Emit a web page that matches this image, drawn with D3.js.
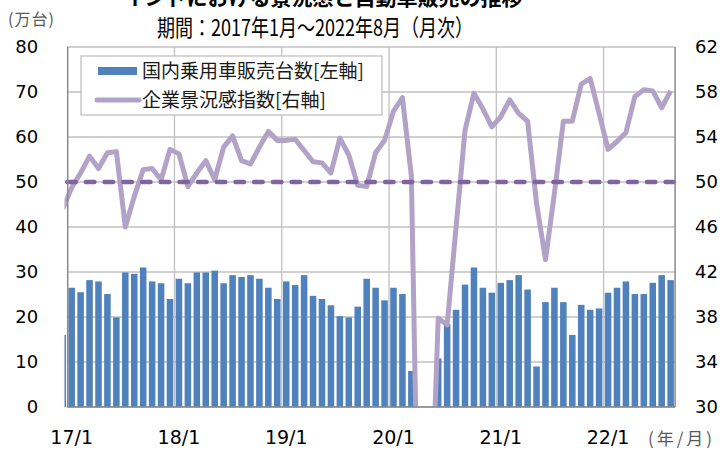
<!DOCTYPE html>
<html>
<head>
<meta charset="utf-8">
<script src="https://cdn.jsdelivr.net/npm/d3@7"></script>
<style>
  body { margin: 0; background: #fff; }
  svg { display: block; }
</style>
</head>
<body>
<svg id="chart" width="725" height="450"></svg>
<script>
// month categories, Dec 2016 .. Aug 2022 (Dec 2016 only shows as a clipped edge)
const months = d3.timeMonth.range(new Date(2016, 11, 1), new Date(2022, 8, 1));
const fmt = d3.timeFormat('%y/%-m');
const monthKeys = months.map(fmt);

const tickLabels = ['17/1', '18/1', '19/1', '20/1', '21/1', '22/1'];
const leftTicks = [0, 10, 20, 30, 40, 50, 60, 70, 80];
const rightTicks = [30, 34, 38, 42, 46, 50, 54, 58, 62];

// 国内乗用車販売台数 (万台)
const sales = [
  16.0,
  26.5, 25.5, 28.2, 27.9, 25.1, 19.9, 29.9, 29.6, 31.0, 27.9, 27.5, 24.0,
  28.5, 27.5, 29.9, 29.9, 30.3, 27.5, 29.3, 28.9, 29.3, 28.5, 26.5, 24.0,
  27.9, 27.1, 29.3, 24.7, 24.0, 22.6, 20.2, 19.9, 22.3, 28.5, 26.5, 23.7,
  26.5, 25.1, 8.0, 0, 0, 10.8, 18.4, 21.6, 27.2, 31.0, 26.5, 25.4,
  27.6, 28.2, 29.3, 26.1, 9.0, 23.3, 26.5, 23.3, 16.0, 22.7, 21.6, 21.9,
  25.4, 26.5, 27.9, 25.1, 25.1, 27.6, 29.3, 28.2
];

// 企業景況感指数
const pmi = [
  47.6,
  49.5, 50.8, 52.3, 51.2, 52.6, 52.7, 46.0, 48.7, 51.1, 51.2, 50.2, 52.9,
  52.5, 49.6, 50.8, 51.9, 50.2, 53.1, 54.1, 51.9, 51.6, 53.1, 54.5, 53.7,
  53.7, 53.8, 52.8, 51.8, 51.7, 50.8, 53.9, 52.4, 49.7, 49.6, 52.6, 53.7,
  56.3, 57.5, 50.5, 7.2, 14.8, 37.9, 37.3, 46.0, 54.6, 57.9, 56.5, 54.9,
  55.8, 57.3, 56.1, 55.4, 48.1, 43.1, 49.0, 55.4, 55.4, 58.7, 59.2, 56.1,
  52.9, 53.6, 54.4, 57.6, 58.2, 58.1, 56.6, 58.1
];
const threshold = 50;

const data = monthKeys.map((k, i) => ({ key: k, sales: sales[i], pmi: pmi[i] }));

const plot = { left: 67.2, right: 675.1, top: 47, bottom: 407 };
const step = (plot.right - plot.left) / 68;
const cjk = '"Noto Sans CJK JP", sans-serif';
const num = '"DejaVu Sans", Verdana, sans-serif';

const svg = d3.select('#chart');

const x = d3
  .scaleBand()
  .domain(monthKeys)
  .range([plot.left - step, plot.right])
  .paddingInner(0.27)
  .paddingOuter(0.135);
const yL = d3.scaleLinear().domain([0, 80]).range([plot.bottom, plot.top]);
const yR = d3.scaleLinear().domain([30, 62]).range([plot.bottom, plot.top]);
const half = (step - x.bandwidth()) / 2;

svg
  .append('defs')
  .append('clipPath')
  .attr('id', 'clip')
  .append('rect')
  .attr('x', 64.5)
  .attr('y', plot.top)
  .attr('width', plot.right - 64.5)
  .attr('height', plot.bottom - plot.top);

// gridlines
const grid = svg.append('g').attr('stroke', '#c0c0c0').attr('stroke-width', 1.3);
grid
  .selectAll('line.h')
  .data(leftTicks)
  .join('line')
  .attr('class', 'h')
  .attr('x1', plot.left)
  .attr('x2', plot.right)
  .attr('y1', (d) => yL(d))
  .attr('y2', (d) => yL(d));
grid
  .selectAll('line.v')
  .data(tickLabels.slice(1))
  .join('line')
  .attr('class', 'v')
  .attr('x1', (d) => x(d) - half)
  .attr('x2', (d) => x(d) - half)
  .attr('y1', plot.top)
  .attr('y2', plot.bottom);

// bars
svg
  .append('g')
  .attr('clip-path', 'url(#clip)')
  .attr('fill', '#4f81bd')
  .selectAll('rect')
  .data(data)
  .join('rect')
  .attr('x', (d) => x(d.key))
  .attr('y', (d) => yL(d.sales))
  .attr('width', x.bandwidth())
  .attr('height', (d) => yL(0) - yL(d.sales));

// index line
const line = d3
  .line()
  .x((d) => x(d.key) + x.bandwidth() / 2)
  .y((d) => yR(d.pmi));
svg
  .append('path')
  .datum(data)
  .attr('clip-path', 'url(#clip)')
  .attr('fill', 'none')
  .attr('stroke', '#b3a2c7')
  .attr('stroke-width', 5)
  .attr('stroke-linejoin', 'round')
  .attr('d', line);

// 50 line
svg
  .append('line')
  .attr('x1', plot.left)
  .attr('x2', plot.right)
  .attr('y1', yR(threshold))
  .attr('y2', yR(threshold))
  .attr('stroke', '#8064a2')
  .attr('stroke-width', 4.5)
  .attr('stroke-linecap', 'round')
  .attr('stroke-dasharray', '8.5,10.2');

// axis frame lines
svg
  .append('g')
  .attr('stroke', '#8a8a8a')
  .attr('stroke-width', 1.5)
  .call((g) =>
    g.append('line').attr('x1', plot.left + 0.5).attr('x2', plot.left + 0.5)
      .attr('y1', plot.top).attr('y2', plot.bottom),
  )
  .call((g) =>
    g.append('line').attr('x1', plot.right).attr('x2', plot.right)
      .attr('y1', plot.top).attr('y2', plot.bottom),
  )
  .call((g) =>
    g.append('line').attr('x1', plot.left).attr('x2', plot.right)
      .attr('y1', plot.bottom).attr('y2', plot.bottom),
  );

// axes
const styleAxis = (g) => {
  g.select('.domain').remove();
  g.selectAll('text').attr('font-family', num).attr('font-size', 18).attr('fill', '#000');
};
svg
  .append('g')
  .attr('transform', `translate(${plot.left},0)`)
  .call(d3.axisLeft(yL).tickValues(leftTicks).tickSize(0).tickPadding(29))
  .call(styleAxis);
svg
  .append('g')
  .attr('transform', `translate(${plot.right},0)`)
  .call(d3.axisRight(yR).tickValues(rightTicks).tickSize(0).tickPadding(20))
  .call(styleAxis);
svg
  .append('g')
  .attr('transform', `translate(0,${plot.bottom})`)
  .call(d3.axisBottom(x).tickValues(tickLabels).tickSize(0).tickPadding(24))
  .call(styleAxis)
  .call((g) => g.selectAll('text').attr('font-size', 19));

// titles (the top line is cut by the picture's top edge, as in the source)
svg
  .append('text')
  .attr('x', 323)
  .attr('y', 5)
  .attr('text-anchor', 'middle')
  .attr('font-family', cjk)
  .attr('font-size', 21)
  .attr('font-weight', 'bold')
  .text('インドにおける景況感と自動車販売の推移');
svg
  .append('text')
  .attr('x', 157)
  .attr('y', 36)
  .attr('font-family', cjk)
  .attr('font-size', 23)
  .attr('textLength', 316)
  .attr('lengthAdjust', 'spacingAndGlyphs')
  .text('期間：2017年1月～2022年8月（月次）');
svg
  .append('text')
  .attr('x', 8)
  .attr('y', 25)
  .attr('font-family', cjk)
  .attr('font-size', 16)
  .attr('fill', '#595959')
  .attr('textLength', 46)
  .attr('lengthAdjust', 'spacing')
  .text('(万台)');
svg
  .append('text')
  .attr('x', 648)
  .attr('y', 445)
  .attr('font-family', cjk)
  .attr('font-size', 17)
  .attr('fill', '#595959')
  .attr('textLength', 64)
  .attr('lengthAdjust', 'spacing')
  .text('(年/月)');

// legend
const legend = svg.append('g');
legend
  .append('rect')
  .attr('x', 81)
  .attr('y', 56)
  .attr('width', 301)
  .attr('height', 59)
  .attr('fill', '#fff')
  .attr('stroke', '#c0c0c0')
  .attr('stroke-width', 1.3);
legend
  .append('rect')
  .attr('x', 98)
  .attr('y', 67)
  .attr('width', 39)
  .attr('height', 8)
  .attr('fill', '#4f81bd');
legend
  .append('line')
  .attr('x1', 97)
  .attr('x2', 139)
  .attr('y1', 100)
  .attr('y2', 100)
  .attr('stroke', '#b3a2c7')
  .attr('stroke-width', 5)
  .attr('stroke-linecap', 'round');
legend
  .selectAll('text')
  .data(['国内乗用車販売台数[左軸]', '企業景況感指数[右軸]'])
  .join('text')
  .attr('x', 142)
  .attr('y', (_d, i) => 78 + i * 29)
  .attr('font-family', cjk)
  .attr('font-size', 19)
  .attr('fill', '#1a1a1a')
  .text((d) => d);
</script>
</body>
</html>
